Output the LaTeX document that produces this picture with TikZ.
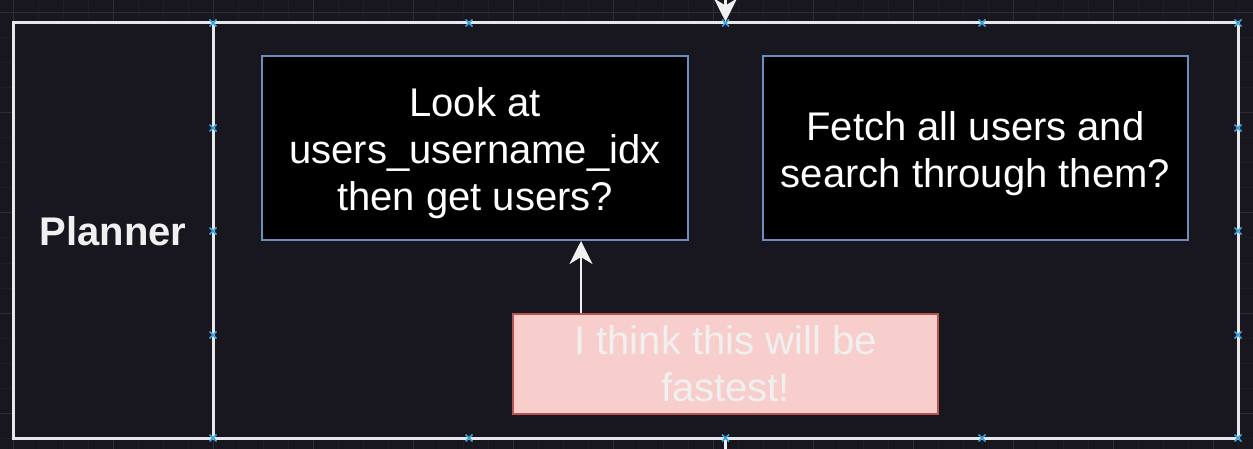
\documentclass[tikz,border=0pt]{standalone}
\usepackage{fontspec}
\setmainfont{Liberation Sans}
\usetikzlibrary{arrows.meta}
\definecolor{bg}{HTML}{18161F}
\definecolor{gridminor}{HTML}{1F1D26}
\definecolor{gridmajor}{HTML}{2E2C35}
\definecolor{frame}{HTML}{E8E8E8}
\definecolor{bluestroke}{HTML}{6C8EBF}
\definecolor{pinkfill}{HTML}{F8CECC}
\definecolor{pinkstroke}{HTML}{B85450}
\definecolor{lighttext}{HTML}{F0F0F0}
\definecolor{handle}{HTML}{3AA0E0}
\tikzset{
  bigtext/.style={font=\fontsize{40}{47}\selectfont, align=center},
  darkbox/.style={draw=bluestroke, line width=2pt, fill=black,
    minimum width=426pt, minimum height=184pt, inner sep=0pt},
  boxtext/.style={bigtext, text=white, inner sep=0pt},
  notebox/.style={bigtext, draw=pinkstroke, line width=2pt, fill=pinkfill, text=lighttext,
    minimum width=425pt, minimum height=100pt, inner sep=0pt},
  framebox/.style={draw=frame, line width=3pt, inner sep=0pt},
  arr/.style={draw=lighttext, line width=2.5pt, -{Stealth[length=23pt,width=23pt,inset=7pt]}},
  plainline/.style={draw=lighttext, line width=2.5pt},
  hmark/.style={draw=handle, line width=1.6pt}
}
\begin{document}
\begin{tikzpicture}[x=1pt,y=-1pt]
\useasboundingbox (0,0) rectangle (1253,449);
\fill[bg] (0,0) rectangle (1253,449);
% grid
\foreach \g in {-12,13,38,...,1263} {\draw[gridminor, line width=1pt] (\g,0) -- (\g,449);}
\foreach \g in {-12,13,38,...,463} {\draw[gridminor, line width=1pt] (0,\g) -- (1253,\g);}
\foreach \g in {13,113,...,1263} {\draw[gridmajor, line width=1pt] (\g,0) -- (\g,449);}
\foreach \g in {13,113,...,463} {\draw[gridmajor, line width=1pt] (0,\g) -- (1253,\g);}

% container
\node[framebox, fill=bg, minimum width=1225pt, minimum height=415pt] (outer) at (625.5,230.5) {};
\node[framebox, minimum width=1025pt, minimum height=415pt] (lane) at (725.5,230.5) {};
\node[font=\fontsize{40}{48}\selectfont\bfseries, text=lighttext] (planner) at (113,231) {Planner};

% boxes
\node[darkbox] (b1) at (475,148) {};
\node[boxtext] (b1t) at ([yshift=-5pt]b1.center) {Look at\\users\_username\_idx\\then get users?};
\node[darkbox, minimum width=425pt] (b2) at (975.5,148) {};
\node[boxtext] (b2t) at ([yshift=-6pt]b2.center) {Fetch all users and\\search through them?};
\node[notebox] (note) at (725.5,363.5) {I think this will be\\fastest!};

% connectors
\coordinate (ax) at (581,0);
\draw[arr] (ax |- note.north) -- (ax |- b1.south);
\coordinate (topin) at (725.5,-2);
\draw[arr] (topin) -- (lane.north);
\coordinate (botout) at (725.5,452);
\draw[plainline] (lane.south) -- (botout);

% selection handles
\foreach \hx/\hy in {213/23,469/23,725.5/23,982/23,1238/23,
                     213/438,469/438,725.5/438,982/438,1238/438,
                     213/128,213/231,213/335,1238/128,1238/231,1238/335} {
  \draw[hmark] (\hx-3.5,\hy-3.5) -- (\hx+3.5,\hy+3.5) (\hx-3.5,\hy+3.5) -- (\hx+3.5,\hy-3.5);
}
\end{tikzpicture}
\end{document}
